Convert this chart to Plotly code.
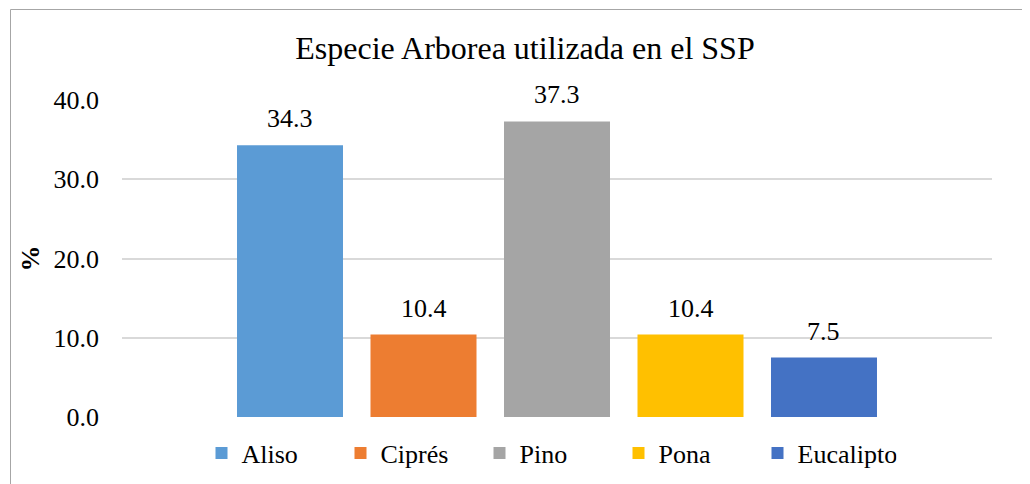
import plotly.graph_objects as go

species = ["Aliso", "Ciprés", "Pino", "Pona", "Eucalipto"]
percent = [34.3, 10.4, 37.3, 10.4, 7.5]
colors = ["#5B9BD5", "#ED7D31", "#A5A5A5", "#FFC000", "#4472C4"]
y_ticks = [0, 10, 20, 30, 40]
y_tick_labels = ["0.0", "10.0", "20.0", "30.0", "40.0"]
title_text = "Especie Arborea utilizada en el SSP"
y_title = "%"

FONT = "'Liberation Serif', 'Times New Roman', Times, serif"

# page body has an 8px margin; figure coordinates are offset accordingly
W, H = 1022, 476
L, R, T, B = 114, 38, 92, 67
PW, PH = W - L - R, H - T - B

fig = go.Figure()
for name, val, col in zip(species, percent, colors):
    fig.add_trace(go.Bar(
        x=[name], y=[val], name=name, marker=dict(color=col, line=dict(width=0)),
        width=0.794, hoverinfo="x+y",
    ))
    fig.add_annotation(
        x=name, y=val, text=f"{val:.1f}", showarrow=False,
        yanchor="bottom", yshift=10, font=dict(family=FONT, size=26, color="#000000"),
    )

fig.update_layout(
    width=W, height=H,
    margin=dict(l=L, r=R, t=T, b=B, autoexpand=False),
    paper_bgcolor="white", plot_bgcolor="white",
    barmode="overlay",
    font=dict(family=FONT, size=26, color="#000000"),
    title=dict(text=title_text, x=517 / W, xanchor="center", xref="container",
               y=1 - 40 / H, yanchor="middle", yref="container",
               font=dict(family=FONT, size=32, color="#000000")),
    showlegend=True,
    legend=dict(orientation="h", x=0.5 - 8 / PW, xanchor="center", y=(409 - 445) / PH,
                yanchor="middle",
                font=dict(family=FONT, size=26, color="#000000"),
                itemwidth=30, entrywidth=94, entrywidthmode="pixels", traceorder="normal"),
    xaxis=dict(type="category", categoryorder="array", categoryarray=species,
               range=[-1.2585, 5.2585], showticklabels=False, showgrid=False,
               zeroline=False, showline=False, ticks="", fixedrange=True),
    yaxis=dict(range=[0, 40], tickvals=y_ticks, ticktext=y_tick_labels,
               showgrid=True, gridcolor="#D9D9D9", gridwidth=2,
               zeroline=False, showline=False, ticks="", ticklabelstandoff=22,
               title=dict(text=f"<b>{y_title}</b>", standoff=6,
                          font=dict(family=FONT, size=26, color="#000000")),
               tickfont=dict(family=FONT, size=26, color="#000000")),
)

fig.add_shape(type="rect", xref="paper", yref="paper",
              x0=(2.5 - L) / PW, x1=(1040 - L) / PW,
              y0=(409 - 500) / PH, y1=1 + (T - 1.5) / PH,
              line=dict(color="#A6A6A6", width=1), layer="below")

fig.write_html("out.html")
